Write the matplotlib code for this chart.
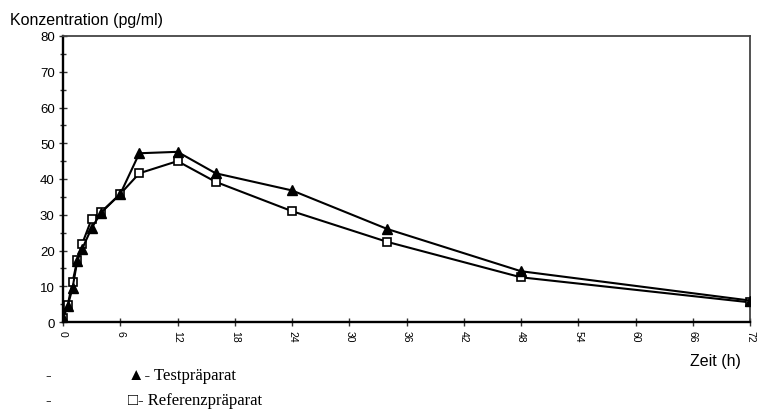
import matplotlib
matplotlib.use("Agg")
import matplotlib.pyplot as plt
from matplotlib.ticker import MultipleLocator

# sampling times (h)
zeit = [0, 0.5, 1, 1.5, 2, 3, 4, 6, 8, 12, 16, 24, 34, 48, 72]
# concentrations (pg/ml)
test = [1.0, 4.6, 9.5, 17.2, 20.4, 26.3, 30.6, 35.8, 47.2, 47.6, 41.6, 36.8, 26.0, 14.2, 6.0]
referenz = [1.2, 4.8, 11.2, 17.3, 21.8, 28.8, 30.8, 35.8, 41.6, 45.0, 39.2, 31.0, 22.4, 12.5, 5.5]

x_ticks = list(range(0, 73, 6))
y_ticks = list(range(0, 81, 10))

plt.rcParams['font.family'] = ['Liberation Sans', 'DejaVu Sans']

fig = plt.figure(figsize=(7.57, 4.10), dpi=100)
ax = fig.add_axes([63 / 757, 1 - 323 / 410, 687 / 757, 286 / 410])

ax.plot(zeit, referenz, color='black', lw=1.5, marker='s', ms=5.5,
        mfc='white', mec='black', mew=1.2, zorder=3)
ax.plot(zeit, test, color='black', lw=1.5, marker='^', ms=6.5,
        mfc='black', mec='black', zorder=4)

ax.set_xlim(0, 72)
ax.set_ylim(0, 80)
ax.set_xticks(x_ticks)
ax.set_yticks(y_ticks)
ax.yaxis.set_minor_locator(MultipleLocator(5))
ax.set_xticklabels([str(t) for t in x_ticks], rotation=-90, fontsize=7.5)
ax.set_yticklabels([str(t) for t in y_ticks], fontsize=9.5)
ax.tick_params(axis='both', which='both', direction='inout', length=6,
               width=1, color='#333333', pad=3)
ax.tick_params(axis='y', which='minor', length=5)

for side in ['left', 'bottom']:
    ax.spines[side].set_linewidth(1.7)
for side in ['top', 'right']:
    ax.spines[side].set_linewidth(1.3)
    ax.spines[side].set_color('#444444')

fig.text(10 / 757, 1 - 20 / 410, 'Konzentration (pg/ml)', fontsize=11.5,
         va='center', ha='left')
fig.text(690 / 757, 1 - 362 / 410, 'Zeit (h)', fontsize=11.5,
         va='center', ha='left')

serif = ['Liberation Serif', 'DejaVu Sans']
fig.text(45 / 757, 1 - 376 / 410, '-', fontsize=12, family=serif, va='center')
fig.text(45 / 757, 1 - 401 / 410, '-', fontsize=12, family=serif, va='center')
fig.text(128 / 757, 1 - 376 / 410, '\u25b2- Testpr\u00e4parat', fontsize=12,
         family=serif, va='center')
fig.text(128 / 757, 1 - 401 / 410, '\u25a1- Referenzpr\u00e4parat', fontsize=12,
         family=serif, va='center')

fig.savefig('out.png', dpi=100)
